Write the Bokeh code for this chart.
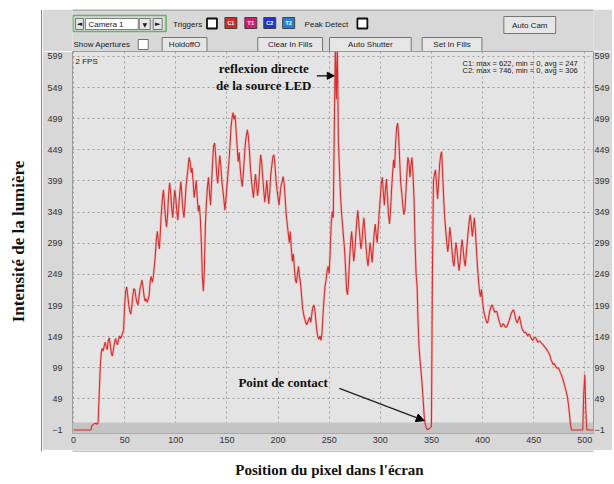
import math
from bokeh.plotting import figure
from bokeh.layouts import row, column
from bokeh.models import (FixedTicker, LinearAxis, Range1d, BoxAnnotation, Label,
                          Arrow, NormalHead)
from bokeh.embed import file_html
from bokeh.resources import INLINE

# ---------------- data ----------------
x_ticks = [0, 50, 100, 150, 200, 250, 300, 350, 400, 450, 500]
y_ticks = [-1, 49, 99, 149, 199, 249, 299, 349, 399, 449, 499, 549, 599]

seg_a_px = [0, 5, 10, 15, 17, 18, 20, 22, 23, 24, 25, 26, 27, 28, 29, 30, 31, 32, 33, 34,
            35, 36, 37, 38, 39, 40, 41, 42, 43, 44, 45, 46, 47, 48, 49]
seg_a_val = [-1, -1, -1, -1, -1, 6, 9, 10, 8, 10, 50, 95, 122, 130, 126, 134, 140, 132, 128, 143,
             147, 135, 122, 118, 128, 138, 146, 140, 136, 144, 150, 146, 150, 155, 160]

seg_b_px = [50, 51, 52, 53, 54, 55, 56, 57, 58, 59, 60, 61, 62, 63, 64, 65, 66, 67, 68, 69,
            70, 71, 72, 73, 74, 75, 76, 77, 78, 79]
seg_b_val = [200, 222, 229, 215, 200, 190, 185, 198, 215, 226, 224, 212, 204, 200, 212, 226, 232, 240, 228, 214,
             206, 210, 204, 208, 216, 238, 246, 236, 244, 262]

seg_c_px = [80, 81, 82, 83, 84, 85, 86, 87, 88, 89, 90, 91, 92, 93, 94, 95, 96, 97, 98, 99,
            100, 101, 102, 103, 104, 105, 106, 107, 108, 109, 110, 111, 112, 113, 114, 115, 116, 117, 118, 119,
            120, 121, 122, 123, 124, 125, 126, 127, 128, 129, 130]
seg_c_val = [280, 305, 318, 300, 290, 320, 350, 372, 385, 360, 338, 325, 345, 378, 396, 380, 355, 340, 362, 385,
             372, 350, 336, 358, 382, 398, 375, 352, 340, 362, 390, 405, 420, 437, 430, 412, 420, 398, 372, 385,
             400, 372, 350, 360, 340, 300, 245, 222, 260, 330, 365]

seg_d_px = [131, 132, 133, 134, 135, 136, 137, 138, 139, 140, 141, 142, 143, 144, 145, 146, 147, 148, 149, 150,
            151, 152, 153, 154, 155, 156, 157, 158, 159, 160, 161, 162, 163, 164, 165, 166, 167, 168, 169, 170,
            171, 172, 173, 174, 175, 176, 177, 178, 179, 180, 181, 182, 183, 184, 185, 186, 187, 188, 189, 190,
            191, 192, 193, 194, 195, 196, 197, 198, 199, 200, 201, 202, 203, 204, 205, 206, 207, 208]
seg_d_val = [390, 405, 380, 360, 395, 430, 455, 460, 440, 410, 395, 418, 440, 425, 400, 385, 370, 352, 368, 390,
             410, 430, 455, 485, 500, 509, 498, 505, 480, 455, 430, 445, 420, 402, 390, 410, 435, 458, 472, 481,
             470, 448, 420, 400, 385, 372, 395, 410, 392, 375, 390, 418, 441, 430, 405, 385, 365, 380, 400, 378,
             362, 385, 410, 425, 438, 441, 425, 400, 385, 372, 360, 378, 392, 398, 406, 395, 370, 345]

seg_e_px = [209, 210, 211, 212, 213, 214, 215, 216, 217, 218, 219, 220, 221, 222, 223, 224, 225, 226, 227, 228,
            229, 230, 231, 232, 233, 234, 235, 236, 237, 238, 239, 240, 241, 242, 243, 244, 245, 246, 247, 248,
            249, 250]
seg_e_val = [330, 315, 300, 318, 290, 270, 282, 258, 240, 235, 250, 262, 245, 235, 215, 195, 185, 178, 172, 168,
             172, 176, 180, 172, 185, 196, 200, 192, 175, 158, 148, 145, 150, 143, 155, 185, 210, 230, 240, 255,
             262, 250]

seg_f_px = [251, 252, 253, 254, 255, 256, 257, 258, 259, 260, 261, 262, 263, 264, 265, 266, 267, 268, 269, 270,
            271, 272, 273, 274]
seg_f_val = [285, 330, 350, 340, 478, 612, 530, 622, 465, 420, 380, 350, 330, 310, 290, 260, 225, 216, 240, 275,
             300, 318, 295, 270]

seg_g_px = [275, 276, 277, 278, 279, 280, 281, 282, 283, 284, 285, 286, 287, 288, 289, 290, 291, 292, 293, 294,
            295, 296, 297, 298, 299, 300, 301, 302, 303, 304, 305, 306, 307, 308, 309, 310, 311, 312, 313, 314,
            315, 316, 317, 318, 319, 320, 321, 322, 323, 324, 325, 326, 327, 328, 329, 330, 331, 332, 333, 334, 335]
seg_g_val = [285, 310, 335, 352, 330, 310, 290, 300, 325, 340, 318, 295, 275, 262, 280, 300, 285, 268, 290, 315,
             330, 312, 300, 325, 350, 372, 395, 405, 380, 360, 385, 402, 375, 345, 330, 350, 385, 410, 433, 420,
             460, 485, 492, 470, 430, 395, 380, 360, 345, 352, 380, 410, 437, 430, 405, 425, 437, 410, 370, 300, 250]

seg_h_px = [336, 337, 338, 339, 340, 341, 342, 343, 344, 345, 346, 347, 348, 349, 350, 351]
seg_h_val = [230, 170, 130, 110, 90, 70, 45, 20, 8, 2, 0, 0, 1, 3, 5, 250]

seg_i_px = [352, 353, 354, 355, 356, 357, 358, 359, 360, 361, 362, 363, 364, 365, 366, 367, 368, 369, 370,
            371, 372, 373, 374, 375, 376, 377, 378, 379, 380, 381, 382, 383, 384, 385, 386, 387, 388, 389, 390,
            391, 392, 393, 394, 395, 396, 397, 398, 399, 400]
seg_i_val = [400, 410, 417, 395, 370, 395, 425, 440, 446, 410, 370, 340, 320, 300, 285, 300, 325, 310, 290,
             270, 262, 280, 300, 288, 270, 255, 268, 290, 305, 290, 272, 262, 280, 300, 318, 335, 345, 330, 310,
             325, 340, 320, 290, 262, 240, 222, 213, 225, 205]

seg_j_px = [401, 402, 403, 404, 405, 406, 407, 408, 409, 410, 411, 412, 413, 414, 415, 416, 417, 418, 419, 420,
            421, 422, 423, 424, 425, 426, 427, 428, 429, 430, 431, 432, 433, 434, 435, 436, 437, 438, 439, 440,
            441, 442, 443, 444, 445, 446, 447, 448, 449, 450, 451, 452, 453, 454, 455, 456, 457]
seg_j_val = [192, 184, 178, 172, 171, 180, 190, 196, 200, 197, 192, 188, 190, 189, 182, 175, 170, 165, 166, 170,
             168, 165, 164, 166, 170, 175, 180, 186, 189, 192, 189, 180, 174, 171, 176, 182, 174, 166, 160, 158,
             155, 156, 154, 150, 153, 152, 148, 145, 143, 146, 148, 147, 144, 140, 141, 142, 140]

seg_k_px = [459, 461, 463, 465, 466, 467, 468, 469, 470, 471, 472, 473, 474, 475, 476, 477, 478, 479, 480, 481,
            482, 483, 484, 485, 486, 487, 490, 495, 497, 498, 499, 500, 501, 502, 505, 508]
seg_k_val = [136, 132, 128, 122, 118, 112, 108, 104, 106, 103, 100, 98, 99, 96, 92, 88, 84, 78, 72, 66,
             60, 52, 40, 25, 8, -1, -1, -1, -1, -1, 60, 88, 30, -1, -1, -1]

pixel = (seg_a_px + seg_b_px + seg_c_px + seg_d_px + seg_e_px + seg_f_px + seg_g_px
         + seg_h_px + seg_i_px + seg_j_px + seg_k_px)
intensity = (seg_a_val + seg_b_val + seg_c_val + seg_d_val + seg_e_val + seg_f_val + seg_g_val
             + seg_h_val + seg_i_val + seg_j_val + seg_k_val)

# ---------------- styling constants ----------------
PANEL = "#d8d8d8"
PLOT_BG = "#e4e4e4"
BTN = "#e6e6e6"
BTN_LINE = "#767676"
EDGE = "#8a8a8a"
SANS = "Liberation Sans"
SERIF = "Liberation Serif"

X0, X1 = 42, 612          # panel columns (page px)
FLP, FRP = 72, 595        # plot frame left / right (page px); all stacked figures share it
BL, BR = FLP - X0, X1 - FRP


def deco_fig(h, y0, y1, bg, border, full=False):
    if full:
        f = figure(width=X0, height=h, output_backend="svg", toolbar_location=None,
                   x_range=Range1d(0, X0), y_range=Range1d(y1, y0),
                   x_axis_type=None, y_axis_type=None, min_border=0,
                   background_fill_color=bg, border_fill_color=border, outline_line_color=None)
    else:
        f = figure(width=X1 - X0, height=h, output_backend="svg", toolbar_location=None,
                   x_range=Range1d(FLP, FRP), y_range=Range1d(y1, y0),
                   x_axis_type=None, y_axis_type=None,
                   min_border_left=BL, min_border_right=BR, min_border_top=0, min_border_bottom=0,
                   background_fill_color=bg, border_fill_color=border, outline_line_color=None)
    f.xgrid.visible = False
    f.ygrid.visible = False
    return f


def box(f, x0, y0, x1, y1, fill=None, line=None, lw=1.0):
    f.add_layout(BoxAnnotation(
        left=x0, right=x1, top=y0, bottom=y1,
        fill_color=fill if fill else "white", fill_alpha=1 if fill else 0,
        line_color=line if line else "black", line_alpha=1 if line else 0, line_width=lw))


def txt(f, X, Y, s, size="8px", font=SANS, color="#202020", align="left",
        style="normal", angle=0.0, units="data"):
    f.add_layout(Label(x=X, y=Y, x_units=units, y_units=units, text=s,
                       text_font_size=size, text_font=font, text_color=color,
                       text_align=align, text_baseline="middle", text_font_style=style,
                       angle=angle))


# ---------------- left strip (white, vertical title) ----------------
left = deco_fig(482, 0, 482, "white", "white", full=True)
box(left, 41, 9.5, 43, 450.5, None, EDGE, 1)
txt(left, 18, 241, "Intensité de la lumière", size="17px", font=SERIF, style="bold",
    color="#111111", align="center", angle=math.pi / 2)

# ---------------- white strip above the panel ----------------
top = deco_fig(9, 0, 9, "white", "white")

# ---------------- top GUI rows ----------------
gui = deco_fig(42, 9, 51, PANEL, PANEL)
box(gui, FLP - 5, 9.5, FRP + 5, 60, None, EDGE, 1)
# row 1
box(gui, 72.5, 15, 166, 31, None, "#62b862", 1.6)
box(gui, 75, 18, 83, 29, BTN, BTN_LINE)
txt(gui, 79, 23.5, "◄", size="7px", font="DejaVu Sans", align="center")
box(gui, 85, 18, 138, 29, "white", "#808080")
txt(gui, 88, 23.5, "Camera 1")
box(gui, 139, 18, 150, 29, BTN, BTN_LINE)
txt(gui, 144.5, 23.5, "▼", size="6px", font="DejaVu Sans", align="center")
box(gui, 153, 18, 162, 29, BTN, BTN_LINE)
txt(gui, 157.5, 23.5, "►", size="7px", font="DejaVu Sans", align="center")
txt(gui, 173, 23.5, "Triggers")
box(gui, 207, 18, 217, 28, "white", "#111111", 1.8)
for (bx, col, lab) in ((225, "#d42a2a", "C1"), (245, "#d81c6c", "T1"),
                       (264, "#2434c4", "C2"), (283, "#2a7fd4", "T2")):
    box(gui, bx, 17, bx + 12, 28, col, "#404040", 1)
    txt(gui, bx + 6, 22.5, lab, size="5.5px", color="white", align="center", style="bold")
txt(gui, 305, 23.5, "Peak Detect")
box(gui, 358, 18, 368, 28, "white", "#111111", 1.8)
box(gui, 505, 16, 557, 33, BTN, BTN_LINE)
txt(gui, 531, 24.5, "Auto Cam", align="center")
# row 2
txt(gui, 73, 44, "Show Apertures")
box(gui, 138, 39, 148, 49, "white", "#707070")
for (bx0, bx1, lab) in ((162, 207, "HoldoffO"), (258, 323, "Clear In Fills"),
                        (330, 412, "Auto Shutter"), (423, 483, "Set In Fills")):
    box(gui, bx0, 37, bx1, 51, BTN, BTN_LINE)
    txt(gui, (bx0 + bx1) / 2, 44, lab, align="center")

# ---------------- main plot ----------------
FB_PAGE = 433
MH = 450 - 51
p = figure(width=X1 - X0, height=MH, output_backend="svg", toolbar_location=None,
           x_range=Range1d(-1, 508.5), y_range=Range1d(-6.6, 607),
           min_border_left=BL, min_border_right=BR, min_border_top=0,
           min_border_bottom=450 - FB_PAGE,
           background_fill_color=PLOT_BG, border_fill_color=PANEL,
           outline_line_color="#9c9c9c", outline_line_width=1)

xt = FixedTicker(ticks=x_ticks)
yt = FixedTicker(ticks=y_ticks)
p.xaxis[0].ticker = xt
p.yaxis[0].ticker = yt
raxis = LinearAxis(ticker=yt)
p.add_layout(raxis, "right")
for ax in (p.xaxis[0], p.yaxis[0], raxis):
    ax.axis_line_color = None
    ax.major_tick_line_color = None
    ax.minor_tick_line_color = None
    ax.major_tick_out = 0
    ax.major_tick_in = 0
    ax.minor_tick_out = 0
    ax.major_label_text_font = SANS
    ax.major_label_text_font_size = "9px"
    ax.major_label_text_color = "#333333"
p.xaxis[0].major_label_standoff = 3
p.yaxis[0].major_label_standoff = 10
raxis.major_label_standoff = 1

p.xgrid.ticker = xt
p.ygrid.ticker = yt
for g in (p.xgrid[0], p.ygrid[0]):
    g.grid_line_color = "#a0a0a0"
    g.grid_line_dash = "2 3"
    g.grid_line_width = 1

# gray band at the bottom of the plot
p.add_layout(BoxAnnotation(bottom=-7, top=11, fill_color="#c4c4c4", fill_alpha=1,
                           line_alpha=0, level="underlay"))

# the signal
p.line(pixel, intensity, line_color="#f2a0a0", line_width=2.6, line_alpha=0.55)
p.line(pixel, intensity, line_color="#d03030", line_width=1.1)

# texts inside the plot (frame screen units: x from left, y from bottom)
txt(p, 75 - FLP, FB_PAGE - 61, "2 FPS", size="8px", units="screen")
txt(p, 462 - FLP, FB_PAGE - 62.5, "C1: max = 622, min = 0, avg = 247", size="7.5px", units="screen")
txt(p, 462 - FLP, FB_PAGE - 70, "C2: max = 746, min = 0, avg = 306", size="7.5px", units="screen")

# annotations (data coordinates)
for (xx, yy, s) in ((186, 580, "reflexion directe"), (186, 552, "de la source LED"),
                    (205, 75, "Point de contact")):
    p.add_layout(Label(x=xx, y=yy, text=s, text_font=SERIF, text_font_size="13px",
                       text_font_style="bold", text_color="#111111",
                       text_align="center", text_baseline="middle"))
p.add_layout(Arrow(end=NormalHead(size=7, fill_color="black", line_color="black"),
                   x_start=238, y_start=568, x_end=255, y_end=568,
                   line_color="black", line_width=1.2))
p.add_layout(Arrow(end=NormalHead(size=8, fill_color="black", line_color="black"),
                   x_start=260, y_start=66, x_end=343, y_end=14,
                   line_color="#222222", line_width=1.3))

# ---------------- bottom strip (white, horizontal title) ----------------
bottom = deco_fig(32, 450, 482, "white", "white")
box(bottom, FLP - 5, 440, FRP + 5, 450.5, None, EDGE, 1)
txt(bottom, 330, 469, "Position du pixel dans l'écran", size="15px", font=SERIF, style="bold",
    color="#111111", align="center")

layout = row(left, column(top, gui, p, bottom, spacing=0), spacing=0)

open("out.html", "w").write(file_html(layout, INLINE))
